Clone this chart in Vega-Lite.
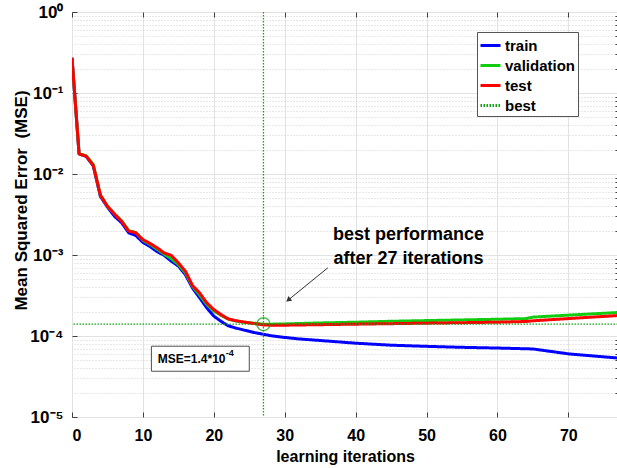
{
  "$schema": "https://vega.github.io/schema/vega-lite/v6.json",
  "autosize": "none",
  "width": 546,
  "height": 405,
  "padding": {"left": 72, "top": 12, "right": 0, "bottom": 51},
  "background": "white",
  "data": {"values": [{}]},
  "config": {
    "font": "Liberation Sans",
    "view": {"stroke": "#404040", "strokeWidth": 1},
    "axis": {"labelColor": "#000000", "titleColor": "#000000", "domain": false, "tickColor": "#404040"},
    "legend": {
      "orient": "none", "legendX": 405, "legendY": 20, "title": null,
      "symbolType": "stroke", "symbolSize": 400, "padding": 2, "rowPadding": -3,
      "labelFont": "Liberation Sans", "labelFontSize": 15, "labelFontWeight": "bold", "labelColor": "#000000",
      "labelOffset": 3, "strokeColor": "#555555", "fillColor": "white", "cornerRadius": 0, "labelLimit": 200
    }
  },
  "datasets": {
    "curves": [
      {"it": 0, "series": "train", "mse": 0.272}, {"it": 1, "series": "train", "mse": 0.0177}, {"it": 2, "series": "train", "mse": 0.0165}, {"it": 3, "series": "train", "mse": 0.0126}, {"it": 4, "series": "train", "mse": 0.0053}, {"it": 5, "series": "train", "mse": 0.0039}, {"it": 6, "series": "train", "mse": 0.0030}, {"it": 7, "series": "train", "mse": 0.0025}, {"it": 8, "series": "train", "mse": 0.00188}, {"it": 9, "series": "train", "mse": 0.00174}, {"it": 10, "series": "train", "mse": 0.00143}, {"it": 11, "series": "train", "mse": 0.00127}, {"it": 12, "series": "train", "mse": 0.0011}, {"it": 13, "series": "train", "mse": 0.00099}, {"it": 14, "series": "train", "mse": 0.00084}, {"it": 15, "series": "train", "mse": 0.00073}, {"it": 16, "series": "train", "mse": 0.00057}, {"it": 17, "series": "train", "mse": 0.00039}, {"it": 18, "series": "train", "mse": 0.000296}, {"it": 19, "series": "train", "mse": 0.000223}, {"it": 20, "series": "train", "mse": 0.000176}, {"it": 21, "series": "train", "mse": 0.000152}, {"it": 22, "series": "train", "mse": 0.000134}, {"it": 23, "series": "train", "mse": 0.000126}, {"it": 24, "series": "train", "mse": 0.00012}, {"it": 25, "series": "train", "mse": 0.000114}, {"it": 26, "series": "train", "mse": 0.000109}, {"it": 27, "series": "train", "mse": 0.000105}, {"it": 28, "series": "train", "mse": 0.000101}, {"it": 29, "series": "train", "mse": 0.0000985}, {"it": 30, "series": "train", "mse": 0.000096}, {"it": 32, "series": "train", "mse": 0.000092}, {"it": 35, "series": "train", "mse": 0.000088}, {"it": 40, "series": "train", "mse": 0.0000815}, {"it": 45, "series": "train", "mse": 0.000077}, {"it": 50, "series": "train", "mse": 0.0000745}, {"it": 55, "series": "train", "mse": 0.0000725}, {"it": 60, "series": "train", "mse": 0.000071}, {"it": 65, "series": "train", "mse": 0.0000692}, {"it": 70, "series": "train", "mse": 0.0000602}, {"it": 77, "series": "train", "mse": 0.0000535},
      {"it": 0, "series": "validation", "mse": 0.272}, {"it": 1, "series": "validation", "mse": 0.0178}, {"it": 2, "series": "validation", "mse": 0.0168}, {"it": 3, "series": "validation", "mse": 0.0131}, {"it": 4, "series": "validation", "mse": 0.0055}, {"it": 5, "series": "validation", "mse": 0.004}, {"it": 6, "series": "validation", "mse": 0.0032}, {"it": 7, "series": "validation", "mse": 0.00265}, {"it": 8, "series": "validation", "mse": 0.002}, {"it": 9, "series": "validation", "mse": 0.0019}, {"it": 10, "series": "validation", "mse": 0.00152}, {"it": 11, "series": "validation", "mse": 0.00135}, {"it": 12, "series": "validation", "mse": 0.00118}, {"it": 13, "series": "validation", "mse": 0.00102}, {"it": 14, "series": "validation", "mse": 0.0009}, {"it": 15, "series": "validation", "mse": 0.00076}, {"it": 16, "series": "validation", "mse": 0.0006}, {"it": 17, "series": "validation", "mse": 0.00041}, {"it": 18, "series": "validation", "mse": 0.00032}, {"it": 19, "series": "validation", "mse": 0.000245}, {"it": 20, "series": "validation", "mse": 0.000203}, {"it": 21, "series": "validation", "mse": 0.00018}, {"it": 22, "series": "validation", "mse": 0.000162}, {"it": 23, "series": "validation", "mse": 0.000154}, {"it": 24, "series": "validation", "mse": 0.000149}, {"it": 25, "series": "validation", "mse": 0.000146}, {"it": 26, "series": "validation", "mse": 0.000143}, {"it": 27, "series": "validation", "mse": 0.00014}, {"it": 28, "series": "validation", "mse": 0.00014}, {"it": 30, "series": "validation", "mse": 0.000141}, {"it": 35, "series": "validation", "mse": 0.000145}, {"it": 40, "series": "validation", "mse": 0.000148}, {"it": 45, "series": "validation", "mse": 0.000152}, {"it": 50, "series": "validation", "mse": 0.000155}, {"it": 55, "series": "validation", "mse": 0.000158}, {"it": 60, "series": "validation", "mse": 0.000161}, {"it": 64, "series": "validation", "mse": 0.000164}, {"it": 65, "series": "validation", "mse": 0.000171}, {"it": 70, "series": "validation", "mse": 0.000181}, {"it": 77, "series": "validation", "mse": 0.000195},
      {"it": 0, "series": "test", "mse": 0.272}, {"it": 1, "series": "test", "mse": 0.0177}, {"it": 2, "series": "test", "mse": 0.0166}, {"it": 3, "series": "test", "mse": 0.0128}, {"it": 4, "series": "test", "mse": 0.0055}, {"it": 5, "series": "test", "mse": 0.004}, {"it": 6, "series": "test", "mse": 0.0032}, {"it": 7, "series": "test", "mse": 0.0026}, {"it": 8, "series": "test", "mse": 0.00197}, {"it": 9, "series": "test", "mse": 0.00188}, {"it": 10, "series": "test", "mse": 0.00155}, {"it": 11, "series": "test", "mse": 0.00139}, {"it": 12, "series": "test", "mse": 0.00123}, {"it": 13, "series": "test", "mse": 0.00106}, {"it": 14, "series": "test", "mse": 0.00099}, {"it": 15, "series": "test", "mse": 0.0008}, {"it": 16, "series": "test", "mse": 0.00063}, {"it": 17, "series": "test", "mse": 0.00042}, {"it": 18, "series": "test", "mse": 0.00034}, {"it": 19, "series": "test", "mse": 0.000257}, {"it": 20, "series": "test", "mse": 0.000212}, {"it": 21, "series": "test", "mse": 0.000184}, {"it": 22, "series": "test", "mse": 0.000163}, {"it": 23, "series": "test", "mse": 0.000155}, {"it": 24, "series": "test", "mse": 0.00015}, {"it": 25, "series": "test", "mse": 0.000145}, {"it": 26, "series": "test", "mse": 0.000141}, {"it": 27, "series": "test", "mse": 0.000137}, {"it": 28, "series": "test", "mse": 0.000136}, {"it": 30, "series": "test", "mse": 0.000136}, {"it": 35, "series": "test", "mse": 0.000138}, {"it": 40, "series": "test", "mse": 0.00014}, {"it": 45, "series": "test", "mse": 0.000142}, {"it": 50, "series": "test", "mse": 0.000144}, {"it": 55, "series": "test", "mse": 0.000146}, {"it": 60, "series": "test", "mse": 0.000148}, {"it": 64, "series": "test", "mse": 0.000151}, {"it": 65, "series": "test", "mse": 0.000154}, {"it": 70, "series": "test", "mse": 0.000164}, {"it": 77, "series": "test", "mse": 0.000179}
    ]
  },
  "layer": [
    {
      "data": {"name": "curves"},
      "mark": {"type": "line", "clip": true, "strokeJoin": "round"},
      "encoding": {
        "x": {"field": "it", "type": "quantitative", "scale": {"domain": [0, 77], "nice": false, "zero": false},
          "axis": {"values": [0, 10, 20, 30, 40, 50, 60, 70], "grid": true, "gridColor": "#e2e2e2", "tickSize": -5, "labelPadding": 15,
            "labelFontSize": 16, "labelFontWeight": "bold", "title": "learning iterations", "titleFontSize": 16, "titleFontWeight": "bold", "titlePadding": 5}},
        "y": {"field": "mse", "type": "quantitative", "scale": {"type": "log", "domain": [0.00001, 1], "nice": false},
          "axis": {"values": [0.00001, 0.0001, 0.001, 0.01, 0.1, 1], "grid": true, "gridColor": "#e2e2e2", "tickSize": -5, "labelPadding": 14,
            "labelExpr": "datum.value > 0.5 ? '10⁰' : datum.value > 0.05 ? '10⁻¹' : datum.value > 0.005 ? '10⁻²' : datum.value > 0.0005 ? '10⁻³' : datum.value > 0.00005 ? '10⁻⁴' : '10⁻⁵'",
            "labelFontSize": 17, "labelFontWeight": "bold", "title": "Mean Squared Error \u00a0(MSE)", "titleFontSize": 17, "titleFontWeight": "bold",
            "titleX": -46, "titleY": 188, "titleBaseline": "alphabetic", "titleAngle": 270, "titleAlign": "center"}},
        "color": {"field": "series", "type": "nominal", "scale": {"domain": ["train", "validation", "test", "best"], "range": ["#0000ff", "#11cc11", "#ff0000", "#12a012"]}},
        "strokeDash": {"field": "series", "type": "nominal", "scale": {"domain": ["train", "validation", "test", "best"], "range": [[1, 0], [1, 0], [1, 0], [1.5, 1.5]]}},
        "strokeWidth": {"field": "series", "type": "nominal", "scale": {"domain": ["train", "validation", "test", "best"], "range": [3, 3, 3, 1.5]}}
      }
    },
    {
      "mark": {"type": "rule", "color": "#12a012", "strokeDash": [1.5, 1.5], "strokeWidth": 1.3},
      "encoding": {"x": {"datum": 27, "type": "quantitative", "axis": null}}
    },
    {
      "mark": {"type": "rule", "color": "#12a012", "strokeDash": [1.5, 1.5], "strokeWidth": 1.3},
      "encoding": {"y": {"datum": 0.00014, "type": "quantitative", "scale": {"type": "log"}, "axis": null}}
    },
    {
      "mark": {"type": "point", "filled": false, "size": 170, "color": "#12a012", "strokeWidth": 1.5},
      "encoding": {
        "x": {"datum": 27, "type": "quantitative",
          "axis": {"orient": "top", "values": [0, 10, 20, 30, 40, 50, 60, 70], "grid": false, "labels": false, "tickSize": -5, "title": null}},
        "y": {"datum": 0.00014, "type": "quantitative", "scale": {"type": "log"},
          "axis": {"orient": "right", "values": [0.00002, 0.00003, 0.00004, 0.00005, 0.00006, 0.00007, 0.00008, 0.00009, 0.0002, 0.0003, 0.0004, 0.0005, 0.0006, 0.0007, 0.0008, 0.0009, 0.002, 0.003, 0.004, 0.005, 0.006, 0.007, 0.008, 0.009, 0.02, 0.03, 0.04, 0.05, 0.06, 0.07, 0.08, 0.09, 0.2, 0.3, 0.4, 0.5, 0.6, 0.7, 0.8, 0.9],
            "grid": true, "gridDash": [1, 2], "gridColor": "#d0d0d0", "labels": false, "tickSize": -3, "title": null}}
      }
    },
    {
      "mark": {"type": "rect", "fill": "white", "stroke": "#505050", "strokeWidth": 1},
      "encoding": {
        "x": {"datum": 11.2, "type": "quantitative", "axis": null},
        "x2": {"datum": 25.0},
        "y": {"datum": 0.0000748, "type": "quantitative", "scale": {"type": "log"}, "axis": null},
        "y2": {"datum": 0.0000367}
      }
    },
    {
      "mark": {"type": "text", "text": "MSE=1.4*10", "align": "left", "baseline": "middle", "font": "Liberation Sans", "fontSize": 12, "fontWeight": "bold", "color": "#000000"},
      "encoding": {
        "x": {"datum": 12.1, "type": "quantitative", "axis": null},
        "y": {"datum": 0.0000527, "type": "quantitative", "scale": {"type": "log"}, "axis": null}
      }
    },
    {
      "mark": {"type": "text", "text": "-4", "align": "left", "baseline": "middle", "dx": 68, "dy": -6, "font": "Liberation Sans", "fontSize": 9, "fontWeight": "bold", "color": "#000000"},
      "encoding": {
        "x": {"datum": 12.1, "type": "quantitative", "axis": null},
        "y": {"datum": 0.0000527, "type": "quantitative", "scale": {"type": "log"}, "axis": null}
      }
    },
    {
      "mark": {"type": "text", "text": ["best performance", "after 27 iterations"], "align": "center", "baseline": "middle", "lineHeight": 24, "font": "Liberation Sans", "fontSize": 18, "fontWeight": "bold", "color": "#000000"},
      "encoding": {
        "x": {"datum": 47.45, "type": "quantitative", "axis": null},
        "y": {"datum": 0.00179, "type": "quantitative", "scale": {"type": "log"}, "axis": null}
      }
    },
    {
      "mark": {"type": "rule", "color": "#333333", "strokeWidth": 1},
      "encoding": {
        "x": {"datum": 36.08, "type": "quantitative", "axis": null},
        "y": {"datum": 0.000695, "type": "quantitative", "scale": {"type": "log"}, "axis": null},
        "x2": {"datum": 30.3},
        "y2": {"datum": 0.000269}
      }
    },
    {
      "mark": {"type": "point", "shape": "triangle", "filled": true, "size": 35, "color": "#333333", "angle": 231, "opacity": 1},
      "encoding": {
        "x": {"datum": 30.6, "type": "quantitative", "axis": null},
        "y": {"datum": 0.000283, "type": "quantitative", "scale": {"type": "log"}, "axis": null}
      }
    }
  ],
  "resolve": {"axis": {"x": "independent", "y": "independent"}}
}
